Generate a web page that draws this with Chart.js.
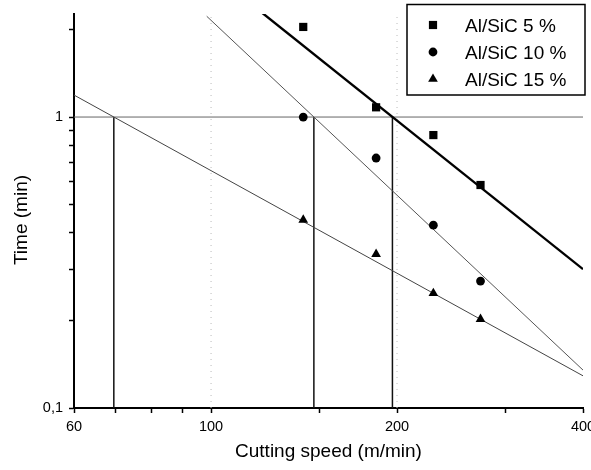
<!DOCTYPE html>
<html>
<head>
<meta charset="utf-8">
<script src="https://cdn.jsdelivr.net/npm/chart.js@4/dist/chart.umd.min.js"></script>
<style>
  html, body { margin: 0; padding: 0; background: #fff; }
</style>
</head>
<body>
<canvas id="chart" width="591" height="470"></canvas>
<script>
// Data
const speeds = [141, 185, 229, 273];
const time5 = [2.04, 1.08, 0.867, 0.584];
const time10 = [1.0, 0.723, 0.425, 0.273];
const time15 = [0.443, 0.338, 0.248, 0.202];
const seriesNames = ["Al/SiC 5 %", "Al/SiC 10 %", "Al/SiC 15 %"];

// fitted lines, two ends each: [speed, time]
const fit5 = [[121, 2.28], [400, 0.30]];
const fit10 = [[98.4, 2.22], [400, 0.135]];
const fit15 = [[60, 1.19], [400, 0.129]];

// speeds where the fits reach 1 min
const crossSpeeds = [69.6, 146.7, 196.6];
const gridSpeeds = [100, 200];

// axes
const xMin = 60, xMax = 400;
const yMin = 0.1, yMax = 2.26;
const xTicks = [60, 70, 80, 90, 100, 150, 200, 300, 400];
const xLabels = [60, 100, 200, 400];
const yTicks = [0.1, 0.2, 0.3, 0.4, 0.5, 0.6, 0.7, 0.8, 0.9, 1, 2];
const yLabels = { "0.1": "0,1", "1": "1" };

const FONT = "'Liberation Sans', Arial, sans-serif";

function pts(xs, ys) {
  return xs.map((x, i) => ({ x: x, y: ys[i] }));
}
function seg(pair) {
  return pair.map((p) => ({ x: p[0], y: p[1] }));
}

const markerSets = [
  { label: seriesNames[0], data: pts(speeds, time5), pointStyle: "rect", pointRadius: 5.8 },
  { label: seriesNames[1], data: pts(speeds, time10), pointStyle: "circle", pointRadius: 4.4 },
  { label: seriesNames[2], data: pts(speeds, time15), pointStyle: "triangle", pointRadius: 5.6 },
].map((d) => Object.assign(d, {
  backgroundColor: "#000",
  borderColor: "#000",
  borderWidth: 0,
  showLine: false,
}));

const lineSets = [
  { data: seg(fit5), borderColor: "#000", borderWidth: 2.4 },
  { data: seg(fit10), borderColor: "#555", borderWidth: 1 },
  { data: seg(fit15), borderColor: "#444", borderWidth: 1 },
  { data: [{ x: xMin, y: 1 }, { x: xMax, y: 1 }], borderColor: "#666", borderWidth: 1 },
];
crossSpeeds.forEach((s) => {
  lineSets.push({ data: [{ x: s, y: yMin }, { x: s, y: 1 }], borderColor: "#111", borderWidth: 1.5 });
});
gridSpeeds.forEach((s) => {
  lineSets.push({ data: [{ x: s, y: yMin }, { x: s, y: yMax }], borderColor: "#bbb", borderWidth: 1, borderDash: [1, 5] });
});
lineSets.forEach((d) => Object.assign(d, { showLine: true, pointRadius: 0, fill: false, tension: 0 }));

// legend box and y title
const extras = {
  id: "extras",
  afterDraw(chart) {
    const ctx = chart.ctx;
    ctx.save();
    // legend
    ctx.strokeStyle = "#000";
    ctx.lineWidth = 1.5;
    ctx.strokeRect(407, 4.5, 178, 90.5);
    const rowsY = [25, 52, 79];
    ctx.fillStyle = "#000";
    ctx.font = "19px " + FONT;
    ctx.textBaseline = "alphabetic";
    ctx.textAlign = "left";
    markerSets.forEach((d, i) => {
      Chart.helpers.drawPoint(ctx, {
        pointStyle: d.pointStyle, radius: d.pointRadius, rotation: 0, borderWidth: 0,
      }, 433, rowsY[i]);
      ctx.fillStyle = "#000";
      ctx.fillText(d.label, 465, rowsY[i] + 6.8);
    });
    // y title
    ctx.translate(22, 220);
    ctx.rotate(-Math.PI / 2);
    ctx.textAlign = "center";
    ctx.textBaseline = "middle";
    ctx.fillText("Time (min)", 0, 0);
    ctx.restore();
  },
};

new Chart(document.getElementById("chart"), {
  type: "scatter",
  data: { datasets: markerSets.concat(lineSets) },
  options: {
    responsive: false,
    animation: false,
    layout: { padding: { top: 14, right: 8, left: 0, bottom: 0 } },
    plugins: { legend: { display: false }, tooltip: { enabled: false } },
    scales: {
      x: {
        type: "logarithmic",
        min: xMin,
        max: xMax,
        afterBuildTicks: (scale) => { scale.ticks = xTicks.map((v) => ({ value: v })); },
        afterFit: (scale) => { scale.height = 62; scale.paddingLeft = 0; scale.paddingRight = 0; },
        ticks: {
          autoSkip: false,
          maxRotation: 0,
          padding: 5,
          color: "#000",
          font: { family: FONT, size: 14.5 },
          callback: (v) => (xLabels.includes(v) ? String(v) : ""),
        },
        grid: { drawOnChartArea: false, drawTicks: true, tickLength: 5, tickColor: "#000", tickWidth: 1.5 },
        border: { color: "#000", width: 2 },
        title: {
          display: true,
          text: "Cutting speed (m/min)",
          color: "#000",
          font: { family: FONT, size: 19 },
          padding: { top: 0, bottom: 7 },
        },
      },
      y: {
        type: "logarithmic",
        min: yMin,
        max: yMax,
        afterBuildTicks: (scale) => { scale.ticks = yTicks.map((v) => ({ value: v })); },
        afterFit: (scale) => { scale.width = 74; scale.paddingTop = 0; scale.paddingBottom = 0; },
        ticks: {
          autoSkip: false,
          padding: 6,
          color: "#000",
          font: { family: FONT, size: 14.5 },
          callback: (v) => yLabels[String(v)] || "",
        },
        grid: { drawOnChartArea: false, drawTicks: true, tickLength: 5, tickColor: "#000", tickWidth: 1.5 },
        border: { color: "#000", width: 2 },
      },
    },
  },
  plugins: [extras],
});
</script>
</body>
</html>
